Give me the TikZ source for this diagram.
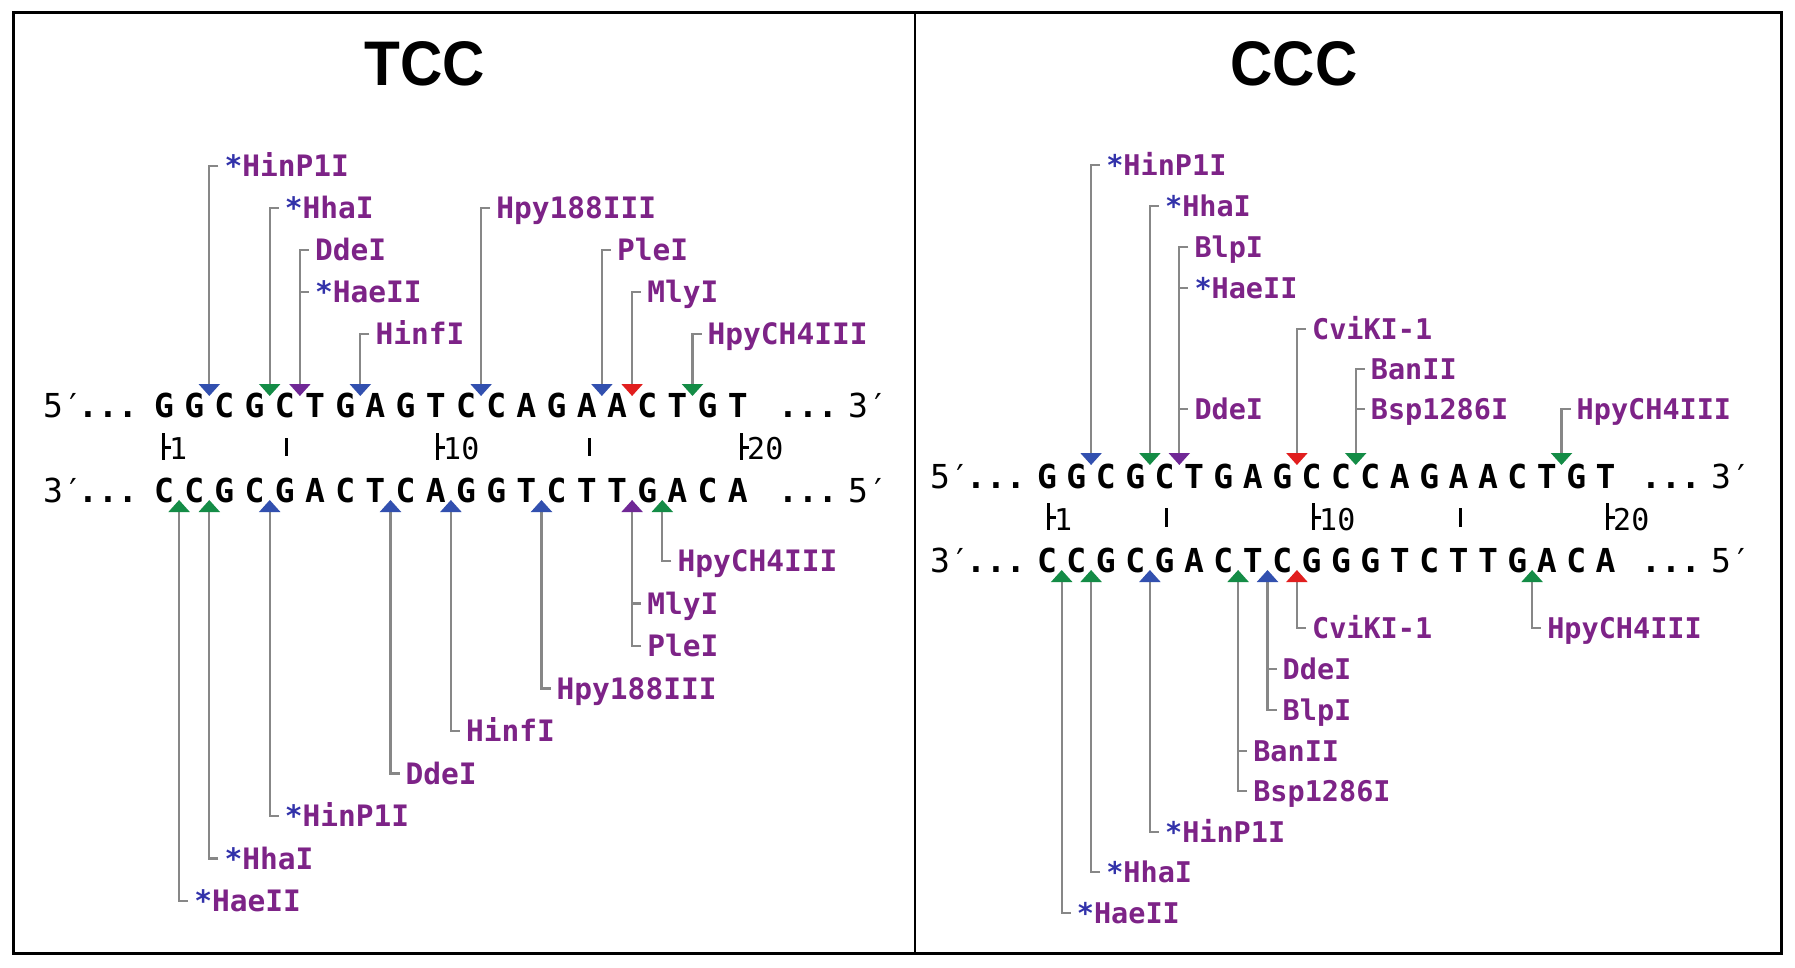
\documentclass[tikz,border=0pt]{standalone}
\usepackage{fontspec}
\newfontfamily\seqfont{DejaVu Sans Mono}
\newfontfamily\titlefont{Liberation Sans}
\usetikzlibrary{arrows.meta}
\definecolor{labc}{RGB}{125,35,135}
\definecolor{astc}{RGB}{50,50,170}
\definecolor{cblue}{RGB}{50,80,175}
\definecolor{cgreen}{RGB}{20,140,70}
\definecolor{cpurple}{RGB}{112,40,150}
\definecolor{cred}{RGB}{225,30,30}
\definecolor{cgrey}{RGB}{135,135,135}
\newcommand\astk{\textcolor{astc}{*}}
\newcommand\nm[1]{\textcolor{labc}{#1}}
\tikzset{
  seqT/.style={font=\seqfont\bfseries\fontsize{33}{33}\selectfont, inner sep=0pt, anchor=base},
  endT/.style={font=\seqfont\fontsize{33}{33}\selectfont, inner sep=0pt, anchor=base west},
  dotsT/.style={font=\seqfont\bfseries\fontsize{33}{33}\selectfont, inner sep=0pt, anchor=base west},
  labT/.style={font=\seqfont\bfseries\fontsize{29.5}{30}\selectfont, text=labc, inner sep=0pt, text height=21.5pt, text depth=0pt, anchor=west},
  labC/.style={font=\seqfont\bfseries\fontsize{28.5}{29}\selectfont, text=labc, inner sep=0pt, text height=20.8pt, text depth=0pt, anchor=west},
  numT/.style={font=\seqfont\fontsize{30}{30}\selectfont, inner sep=0pt, text height=22pt, text depth=0pt, anchor=west},
  conn/.style={draw=cgrey, line width=2.2pt},
  tipb/.style={-{Triangle[width=21pt,length=12pt,color=cblue]}},
  tipg/.style={-{Triangle[width=21pt,length=12pt,color=cgreen]}},
  tipp/.style={-{Triangle[width=21pt,length=12pt,color=cpurple]}},
  tipr/.style={-{Triangle[width=21pt,length=12pt,color=cred]}},
  tick/.style={draw=black, line width=3pt},
  title/.style={font=\titlefont\bfseries\fontsize{63}{63}\selectfont, inner sep=0pt}
}
\begin{document}
\begin{tikzpicture}[x=1pt,y=-1pt]
\fill[white] (0,0) rectangle (1795,967);
\useasboundingbox (0,0) rectangle (1795,967);
% frame
\draw[line width=3pt] (13,12) rectangle (1781,953);
\draw[line width=2.5pt] (915,12) -- (915,953);
% titles
\node[title] (ttcc) at (425,64) {\scalebox{0.93}[1]{TCC}};
\node[title] (tccc) at (1294,64) {\scalebox{0.93}[1]{CCC}};

% ================= TCC =================
\node[endT] (t5p) at (43,417) {5′};
\node[dotsT] (t5d) at (78,417) {...};
\foreach \c [count=\i] in {G,G,C,G,C,T,G,A,G,T,C,C,A,G,A,A,C,T,G,T}
  \node[seqT] (tt\i) at ({164+(\i-1)*30.2},417) {\c};
\node[dotsT] (t3d) at (778,417) {...};
\node[endT] (t3p) at (848,417) {3′};

\node[endT] (b3p) at (43,502) {3′};
\node[dotsT] (b3d) at (78,502) {...};
\foreach \c [count=\i] in {C,C,G,C,G,A,C,T,C,A,G,G,T,C,T,T,G,A,C,A}
  \node[seqT] (tb\i) at ({164+(\i-1)*30.2},502) {\c};
\node[dotsT] (b5d) at (778,502) {...};
\node[endT] (b5p) at (848,502) {5′};

% ticks
\draw[tick] (163,433) -- (163,460) (163,447) -- (171,447);
\node[numT] (tn1) at (169,448) {1};
\draw[tick] (286,438) -- (286,456);
\draw[tick] (437,433) -- (437,460) (437,447) -- (445,447);
\node[numT] (tn10) at (443,448) {10};
\draw[tick] (589,438) -- (589,456);
\draw[tick] (741,433) -- (741,460) (741,447) -- (749,447);
\node[numT] (tn20) at (747,448) {20};

% top enzymes
\coordinate (ta1) at (209.3,396);
\coordinate (ta2) at (269.7,396);
\coordinate (ta3) at (299.9,396);
\coordinate (ta4) at (360.3,396);
\coordinate (ta5) at (481.1,396);
\coordinate (ta6) at (601.9,396);
\coordinate (ta7) at (632.1,396);
\coordinate (ta8) at (692.5,396);
\node[labT] (tl1) at (224.3,166) {\astk\nm{HinP1I}};
\node[labT] (tl2) at (284.7,208) {\astk\nm{HhaI}};
\node[labT] (tl3a) at (314.9,250) {\nm{DdeI}};
\node[labT] (tl3b) at (314.9,292) {\astk\nm{HaeII}};
\node[labT] (tl4) at (375.3,334) {\nm{HinfI}};
\node[labT] (tl5) at (496.1,208) {\nm{Hpy188III}};
\node[labT] (tl6) at (616.9,250) {\nm{PleI}};
\node[labT] (tl7) at (647.1,292) {\nm{MlyI}};
\node[labT] (tl8) at (707.5,334) {\nm{HpyCH4III}};
\draw[conn,tipb] ([xshift=-6pt]tl1.west) -| (ta1);
\draw[conn,tipg] ([xshift=-6pt]tl2.west) -| (ta2);
\draw[conn,tipp] ([xshift=-6pt]tl3a.west) -| (ta3);
\draw[conn] (tl3b.west -| ta3) -- ([xshift=-6pt]tl3b.west);
\draw[conn,tipb] ([xshift=-6pt]tl4.west) -| (ta4);
\draw[conn,tipb] ([xshift=-6pt]tl5.west) -| (ta5);
\draw[conn,tipb] ([xshift=-6pt]tl6.west) -| (ta6);
\draw[conn,tipr] ([xshift=-6pt]tl7.west) -| (ta7);
\draw[conn,tipg] ([xshift=-6pt]tl8.west) -| (ta8);

% bottom enzymes
\coordinate (ba1) at (179.1,500);
\coordinate (ba2) at (209.3,500);
\coordinate (ba3) at (269.7,500);
\coordinate (ba4) at (390.5,500);
\coordinate (ba5) at (450.9,500);
\coordinate (ba6) at (541.5,500);
\coordinate (ba7) at (632.1,500);
\coordinate (ba8) at (662.3,500);
\node[labT] (bl1) at (194.1,901) {\astk\nm{HaeII}};
\node[labT] (bl2) at (224.3,858.5) {\astk\nm{HhaI}};
\node[labT] (bl3) at (284.7,816) {\astk\nm{HinP1I}};
\node[labT] (bl4) at (405.5,773.5) {\nm{DdeI}};
\node[labT] (bl5) at (465.9,731) {\nm{HinfI}};
\node[labT] (bl6) at (556.5,688.5) {\nm{Hpy188III}};
\node[labT] (bl7a) at (647.1,603.5) {\nm{MlyI}};
\node[labT] (bl7b) at (647.1,646) {\nm{PleI}};
\node[labT] (bl8) at (677.3,561) {\nm{HpyCH4III}};
\draw[conn,tipg] ([xshift=-6pt]bl1.west) -| (ba1);
\draw[conn,tipg] ([xshift=-6pt]bl2.west) -| (ba2);
\draw[conn,tipb] ([xshift=-6pt]bl3.west) -| (ba3);
\draw[conn,tipb] ([xshift=-6pt]bl4.west) -| (ba4);
\draw[conn,tipb] ([xshift=-6pt]bl5.west) -| (ba5);
\draw[conn,tipb] ([xshift=-6pt]bl6.west) -| (ba6);
\draw[conn,tipp] ([xshift=-6pt]bl7b.west) -| (ba7);
\draw[conn] (bl7a.west -| ba7) -- ([xshift=-6pt]bl7a.west);
\draw[conn,tipg] ([xshift=-6pt]bl8.west) -| (ba8);

% ================= CCC =================
\node[endT] (c5p) at (930,488) {5′};
\node[dotsT] (c5d) at (966,488) {...};
\foreach \c [count=\i] in {G,G,C,G,C,T,G,A,G,C,C,C,A,G,A,A,C,T,G,T}
  \node[seqT] (ct\i) at ({1047+(\i-1)*29.4},488) {\c};
\node[dotsT] (c3d) at (1641,488) {...};
\node[endT] (c3p) at (1711,488) {3′};

\node[endT] (d3p) at (930,572) {3′};
\node[dotsT] (d3d) at (966,572) {...};
\foreach \c [count=\i] in {C,C,G,C,G,A,C,T,C,G,G,G,T,C,T,T,G,A,C,A}
  \node[seqT] (cb\i) at ({1047+(\i-1)*29.4},572) {\c};
\node[dotsT] (d5d) at (1641,572) {...};
\node[endT] (d5p) at (1711,572) {5′};

% ticks
\draw[tick] (1048,503) -- (1048,530) (1048,517) -- (1056,517);
\node[numT] (cn1) at (1054,519) {1};
\draw[tick] (1166,508) -- (1166,527);
\draw[tick] (1313,503) -- (1313,530) (1313,517) -- (1321,517);
\node[numT] (cn10) at (1319,519) {10};
\draw[tick] (1460,508) -- (1460,527);
\draw[tick] (1607,503) -- (1607,530) (1607,517) -- (1615,517);
\node[numT] (cn20) at (1613,519) {20};

% top enzymes
\coordinate (ca1) at (1091.1,465);
\coordinate (ca2) at (1149.9,465);
\coordinate (ca3) at (1179.3,465);
\coordinate (ca4) at (1296.9,465);
\coordinate (ca5) at (1355.7,465);
\coordinate (ca6) at (1561.5,465);
\node[labC] (cl1) at (1106.1,165) {\astk\nm{HinP1I}};
\node[labC] (cl2) at (1164.9,206) {\astk\nm{HhaI}};
\node[labC] (cl3a) at (1194.3,247) {\nm{BlpI}};
\node[labC] (cl3b) at (1194.3,288) {\astk\nm{HaeII}};
\node[labC] (cl3c) at (1194.3,409) {\nm{DdeI}};
\node[labC] (cl4) at (1311.9,329) {\nm{CviKI-1}};
\node[labC] (cl5a) at (1370.7,369) {\nm{BanII}};
\node[labC] (cl5b) at (1370.7,409) {\nm{Bsp1286I}};
\node[labC] (cl6) at (1576.5,409) {\nm{HpyCH4III}};
\draw[conn,tipb] ([xshift=-6pt]cl1.west) -| (ca1);
\draw[conn,tipg] ([xshift=-6pt]cl2.west) -| (ca2);
\draw[conn,tipp] ([xshift=-6pt]cl3a.west) -| (ca3);
\draw[conn] (cl3b.west -| ca3) -- ([xshift=-6pt]cl3b.west);
\draw[conn] (cl3c.west -| ca3) -- ([xshift=-6pt]cl3c.west);
\draw[conn,tipr] ([xshift=-6pt]cl4.west) -| (ca4);
\draw[conn,tipg] ([xshift=-6pt]cl5a.west) -| (ca5);
\draw[conn] (cl5b.west -| ca5) -- ([xshift=-6pt]cl5b.west);
\draw[conn,tipg] ([xshift=-6pt]cl6.west) -| (ca6);

% bottom enzymes
\coordinate (cc1) at (1061.7,570);
\coordinate (cc2) at (1091.1,570);
\coordinate (cc3) at (1149.9,570);
\coordinate (cc4) at (1238.1,570);
\coordinate (cc5) at (1267.5,570);
\coordinate (cc6) at (1296.9,570);
\coordinate (cc7) at (1532.1,570);
\node[labC] (cm1) at (1076.7,913) {\astk\nm{HaeII}};
\node[labC] (cm2) at (1106.1,872) {\astk\nm{HhaI}};
\node[labC] (cm3) at (1164.9,832) {\astk\nm{HinP1I}};
\node[labC] (cm4a) at (1253.1,751) {\nm{BanII}};
\node[labC] (cm4b) at (1253.1,791) {\nm{Bsp1286I}};
\node[labC] (cm5a) at (1282.5,669) {\nm{DdeI}};
\node[labC] (cm5b) at (1282.5,710) {\nm{BlpI}};
\node[labC] (cm6) at (1311.9,628) {\nm{CviKI-1}};
\node[labC] (cm7) at (1547.1,628) {\nm{HpyCH4III}};
\draw[conn,tipg] ([xshift=-6pt]cm1.west) -| (cc1);
\draw[conn,tipg] ([xshift=-6pt]cm2.west) -| (cc2);
\draw[conn,tipb] ([xshift=-6pt]cm3.west) -| (cc3);
\draw[conn,tipg] ([xshift=-6pt]cm4b.west) -| (cc4);
\draw[conn] (cm4a.west -| cc4) -- ([xshift=-6pt]cm4a.west);
\draw[conn,tipb] ([xshift=-6pt]cm5b.west) -| (cc5);
\draw[conn] (cm5a.west -| cc5) -- ([xshift=-6pt]cm5a.west);
\draw[conn,tipr] ([xshift=-6pt]cm6.west) -| (cc6);
\draw[conn,tipg] ([xshift=-6pt]cm7.west) -| (cc7);
\end{tikzpicture}
\end{document}
